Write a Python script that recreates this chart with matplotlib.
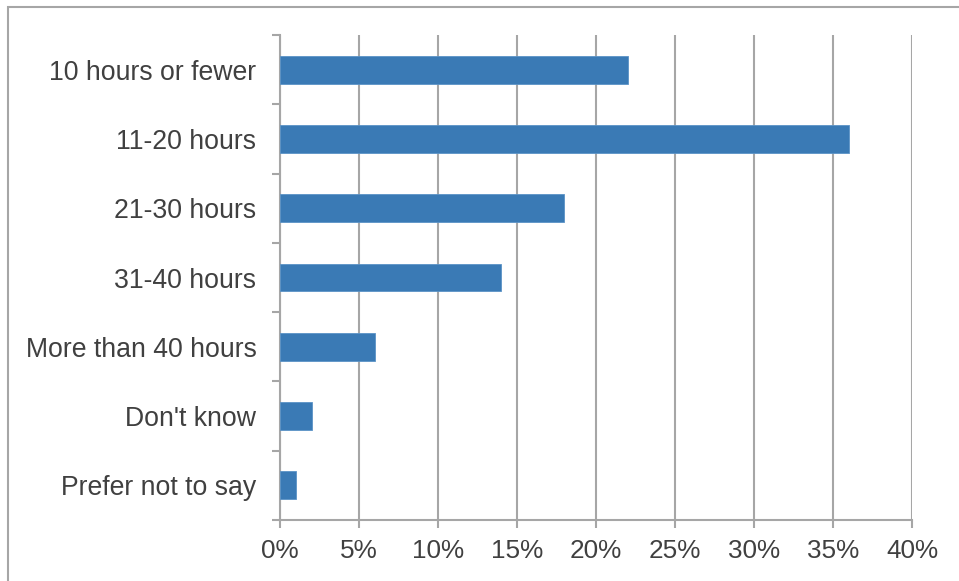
import matplotlib.pyplot as plt
from matplotlib.patches import Rectangle
from matplotlib.ticker import FixedLocator, PercentFormatter

categories = ['10 hours or fewer', '11-20 hours', '21-30 hours', '31-40 hours',
              'More than 40 hours', "Don't know", 'Prefer not to say']
values = [22, 36, 18, 14, 6, 2, 1]
xticks = [0, 5, 10, 15, 20, 25, 30, 35, 40]

plt.rcParams['font.family'] = ['Liberation Sans', 'DejaVu Sans']

W, H = 959, 581
fig = plt.figure(figsize=(W / 100, H / 100), dpi=100)
ax = fig.add_axes([280 / W, (H - 520) / H, (912 - 280) / W, (520 - 35) / H])

grey = '#a6a6a6'
text_col = '#404040'

pos = list(range(len(categories)))
ax.barh(pos, values, height=0.4, color='#3a7ab5', edgecolor='#5b93c7', linewidth=0.6, zorder=3)

ax.set_xlim(0, 40)
ax.set_ylim(len(categories) - 0.5, -0.5)
ax.set_xticks(xticks)
ax.xaxis.set_major_formatter(PercentFormatter(decimals=0))
ax.grid(axis='x', color=grey, linewidth=1.5, zorder=0)

# category labels centred, tick marks at boundaries
ax.set_yticks(pos)
ax.set_yticklabels(categories)
ax.yaxis.set_minor_locator(FixedLocator([p - 0.5 for p in pos] + [len(pos) - 0.5]))
ax.tick_params(axis='y', which='major', length=0, pad=17, labelsize=19.2, labelcolor=text_col)
ax.tick_params(axis='y', which='minor', length=6, width=1.5, color=grey)
ax.tick_params(axis='x', length=6, width=1.5, color=grey, pad=8, labelsize=18.8, labelcolor=text_col)

for s in ['top', 'right']:
    ax.spines[s].set_visible(False)
for s in ['left', 'bottom']:
    ax.spines[s].set_color(grey)
    ax.spines[s].set_linewidth(1.5)

# outer chart border
fig.patches.append(Rectangle((8 / W, -0.1), 1.2, (H - 7) / H + 0.1, transform=fig.transFigure,
                             fill=False, edgecolor=grey, linewidth=1.5))

fig.savefig('out.png', dpi=100)
